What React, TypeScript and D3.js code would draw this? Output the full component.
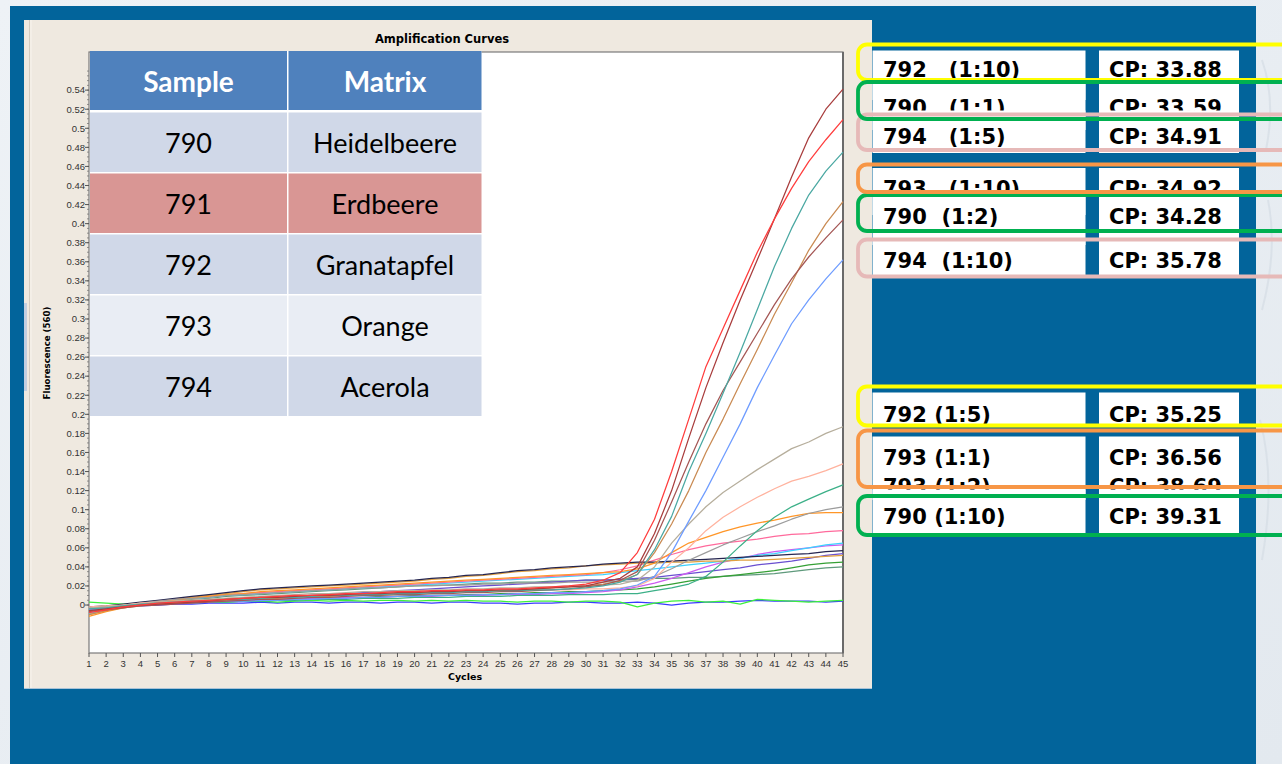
import React from "react";
import * as d3 from "d3";

// ---------- amplification data (fluorescence 560 nm per cycle) ----------
const cycles: number[] = d3.range(1, 46);

const brownTop = [
  -0.006, -0.004, -0.002, 0.0, 0.001, 0.002, 0.003, 0.004, 0.006, 0.007, 0.008, 0.008, 0.009, 0.01, 0.01,
  0.011, 0.012, 0.012, 0.013, 0.013, 0.014, 0.014, 0.015, 0.015, 0.016, 0.016, 0.017, 0.018, 0.019, 0.02,
  0.024, 0.028, 0.04, 0.075, 0.12, 0.175, 0.228, 0.275, 0.32, 0.362, 0.405, 0.449, 0.49, 0.52, 0.541,
];
const red = [
  -0.008, -0.005, -0.002, 0.0, 0.002, 0.003, 0.004, 0.005, 0.006, 0.007, 0.008, 0.009, 0.01, 0.01, 0.011,
  0.012, 0.012, 0.013, 0.014, 0.014, 0.015, 0.015, 0.016, 0.016, 0.017, 0.017, 0.018, 0.019, 0.02, 0.022,
  0.026, 0.034, 0.055, 0.09, 0.14, 0.195, 0.25, 0.29, 0.33, 0.37, 0.405, 0.437, 0.465, 0.488, 0.509,
];
const teal = [
  -0.004, -0.003, -0.001, 0.001, 0.002, 0.003, 0.004, 0.005, 0.006, 0.006, 0.007, 0.008, 0.008, 0.009, 0.01,
  0.01, 0.011, 0.011, 0.012, 0.012, 0.013, 0.013, 0.014, 0.014, 0.015, 0.015, 0.016, 0.016, 0.017, 0.018,
  0.02, 0.024, 0.032, 0.058, 0.093, 0.14, 0.18, 0.222, 0.265, 0.31, 0.355, 0.395, 0.43, 0.455, 0.475,
];
const tan = [
  -0.01, -0.006, -0.003, -0.001, 0.001, 0.002, 0.003, 0.004, 0.005, 0.006, 0.007, 0.007, 0.008, 0.009, 0.009,
  0.01, 0.011, 0.011, 0.012, 0.013, 0.013, 0.014, 0.014, 0.015, 0.015, 0.016, 0.017, 0.018, 0.019, 0.02,
  0.022, 0.025, 0.032, 0.055, 0.085, 0.12, 0.16, 0.195, 0.232, 0.268, 0.305, 0.338, 0.372, 0.4, 0.423,
];
const brown = [
  -0.007, -0.005, -0.003, -0.001, 0.0, 0.001, 0.002, 0.003, 0.004, 0.005, 0.006, 0.006, 0.007, 0.008, 0.008,
  0.009, 0.01, 0.01, 0.011, 0.011, 0.012, 0.012, 0.013, 0.013, 0.014, 0.014, 0.015, 0.016, 0.017, 0.019,
  0.021, 0.026, 0.035, 0.068, 0.108, 0.15, 0.19, 0.225, 0.255, 0.285, 0.315, 0.342, 0.365, 0.385, 0.404,
];
const lightBlue = [
  -0.005, -0.004, -0.002, 0.0, 0.001, 0.002, 0.002, 0.003, 0.004, 0.004, 0.005, 0.005, 0.006, 0.006, 0.007,
  0.007, 0.008, 0.008, 0.009, 0.009, 0.01, 0.01, 0.01, 0.011, 0.011, 0.012, 0.012, 0.013, 0.013, 0.014,
  0.015, 0.017, 0.021, 0.03, 0.055, 0.088, 0.12, 0.155, 0.19, 0.228, 0.262, 0.295, 0.32, 0.342, 0.362,
];
const grayBeige = [
  -0.003, -0.002, 0.0, 0.001, 0.003, 0.004, 0.005, 0.006, 0.007, 0.008, 0.009, 0.01, 0.011, 0.012, 0.012,
  0.013, 0.014, 0.014, 0.015, 0.015, 0.016, 0.016, 0.017, 0.017, 0.018, 0.018, 0.019, 0.019, 0.02, 0.02,
  0.021, 0.022, 0.026, 0.04, 0.065, 0.085, 0.103, 0.118, 0.13, 0.142, 0.153, 0.164, 0.171, 0.18, 0.187,
];
const salmon = [
  -0.002, -0.001, 0.0, 0.002, 0.003, 0.004, 0.005, 0.006, 0.007, 0.008, 0.008, 0.009, 0.01, 0.01, 0.011,
  0.011, 0.012, 0.012, 0.013, 0.013, 0.014, 0.014, 0.014, 0.015, 0.015, 0.015, 0.016, 0.016, 0.016, 0.017,
  0.017, 0.018, 0.02, 0.028, 0.045, 0.06, 0.078, 0.092, 0.103, 0.113, 0.122, 0.13, 0.135, 0.141, 0.148,
];
const seaGreen = [
  -0.006, -0.004, -0.002, 0.0, 0.001, 0.002, 0.002, 0.003, 0.003, 0.004, 0.004, 0.005, 0.005, 0.006, 0.006,
  0.006, 0.007, 0.007, 0.007, 0.008, 0.008, 0.008, 0.009, 0.009, 0.009, 0.01, 0.01, 0.01, 0.011, 0.011,
  0.011, 0.012, 0.012, 0.015, 0.018, 0.022, 0.03, 0.045, 0.062, 0.078, 0.092, 0.103, 0.111, 0.119, 0.126,
];
const gray = [
  -0.003, -0.002, 0.0, 0.002, 0.004, 0.006, 0.007, 0.008, 0.01, 0.011, 0.012, 0.013, 0.014, 0.015, 0.016,
  0.017, 0.018, 0.018, 0.019, 0.02, 0.02, 0.021, 0.021, 0.022, 0.022, 0.023, 0.023, 0.023, 0.024, 0.024,
  0.024, 0.025, 0.025, 0.03, 0.038, 0.047, 0.055, 0.063, 0.07, 0.077, 0.083, 0.09, 0.096, 0.1, 0.103,
];
const orange = [
  -0.012, -0.007, -0.003, 0.0, 0.003, 0.005, 0.007, 0.009, 0.011, 0.012, 0.014, 0.015, 0.016, 0.017, 0.018,
  0.019, 0.02, 0.021, 0.022, 0.023, 0.024, 0.025, 0.026, 0.027, 0.028, 0.029, 0.03, 0.031, 0.032, 0.033,
  0.034, 0.035, 0.038, 0.044, 0.055, 0.065, 0.071, 0.077, 0.082, 0.086, 0.089, 0.093, 0.096, 0.097, 0.097,
];
const pink = [
  -0.004, -0.002, 0.0, 0.002, 0.004, 0.006, 0.008, 0.009, 0.011, 0.012, 0.013, 0.014, 0.015, 0.016, 0.017,
  0.018, 0.019, 0.02, 0.021, 0.022, 0.023, 0.024, 0.025, 0.026, 0.027, 0.028, 0.029, 0.03, 0.031, 0.032,
  0.034, 0.037, 0.041, 0.047, 0.053, 0.058, 0.062, 0.065, 0.067, 0.069, 0.072, 0.074, 0.075, 0.077, 0.078,
];
const cyan = [
  -0.009, -0.005, -0.002, 0.001, 0.003, 0.005, 0.007, 0.008, 0.01, 0.011, 0.012, 0.013, 0.014, 0.015, 0.016,
  0.017, 0.018, 0.019, 0.02, 0.021, 0.022, 0.023, 0.024, 0.025, 0.026, 0.027, 0.028, 0.029, 0.03, 0.031,
  0.032, 0.034, 0.036, 0.038, 0.04, 0.042, 0.044, 0.046, 0.049, 0.052, 0.054, 0.057, 0.06, 0.063, 0.065,
];
const violet = [
  -0.005, -0.003, -0.001, 0.0, 0.001, 0.002, 0.003, 0.004, 0.004, 0.005, 0.005, 0.006, 0.006, 0.007, 0.007,
  0.008, 0.008, 0.008, 0.009, 0.009, 0.009, 0.01, 0.01, 0.01, 0.011, 0.011, 0.011, 0.012, 0.012, 0.013,
  0.014, 0.016, 0.019, 0.023, 0.028, 0.034, 0.04, 0.045, 0.049, 0.053, 0.056, 0.058, 0.06, 0.062, 0.063,
];
const navy = [
  -0.002, -0.001, 0.001, 0.003, 0.005, 0.007, 0.009, 0.011, 0.013, 0.015, 0.017, 0.018, 0.019, 0.02, 0.021,
  0.022, 0.023, 0.024, 0.025, 0.026, 0.028, 0.029, 0.031, 0.032, 0.034, 0.036, 0.037, 0.039, 0.04, 0.041,
  0.043, 0.044, 0.045, 0.045, 0.046, 0.047, 0.048, 0.049, 0.05, 0.051, 0.052, 0.053, 0.054, 0.056, 0.057,
];
const purple = [
  -0.006, -0.004, -0.002, 0.0, 0.001, 0.002, 0.003, 0.004, 0.005, 0.006, 0.007, 0.008, 0.009, 0.01, 0.011,
  0.012, 0.013, 0.014, 0.015, 0.016, 0.017, 0.018, 0.019, 0.02, 0.021, 0.022, 0.023, 0.024, 0.025, 0.026,
  0.026, 0.027, 0.028, 0.029, 0.031, 0.033, 0.035, 0.037, 0.039, 0.042, 0.044, 0.046, 0.049, 0.052, 0.054,
];
const goldenrod = [
  -0.01, -0.006, -0.002, 0.001, 0.004, 0.006, 0.008, 0.01, 0.012, 0.014, 0.016, 0.017, 0.018, 0.019, 0.02,
  0.021, 0.022, 0.023, 0.024, 0.025, 0.027, 0.028, 0.03, 0.031, 0.033, 0.035, 0.036, 0.038, 0.039, 0.041,
  0.042, 0.043, 0.044, 0.044, 0.045, 0.045, 0.046, 0.046, 0.047, 0.047, 0.048, 0.049, 0.05, 0.051, 0.052,
];
const green = [
  -0.005, -0.003, -0.001, 0.0, 0.001, 0.002, 0.003, 0.003, 0.004, 0.005, 0.005, 0.006, 0.006, 0.007, 0.007,
  0.008, 0.008, 0.009, 0.009, 0.01, 0.01, 0.01, 0.011, 0.011, 0.012, 0.012, 0.013, 0.013, 0.014, 0.014,
  0.015, 0.016, 0.017, 0.019, 0.022, 0.025, 0.028, 0.03, 0.032, 0.034, 0.036, 0.039, 0.042, 0.044, 0.045,
];
const grayGreen = [
  -0.004, -0.003, -0.001, 0.001, 0.003, 0.004, 0.006, 0.007, 0.009, 0.01, 0.011, 0.012, 0.013, 0.014, 0.015,
  0.016, 0.017, 0.018, 0.019, 0.02, 0.021, 0.021, 0.022, 0.023, 0.023, 0.024, 0.024, 0.025, 0.025, 0.026,
  0.026, 0.027, 0.027, 0.028, 0.028, 0.029, 0.029, 0.03, 0.031, 0.032, 0.033, 0.035, 0.037, 0.039, 0.04,
];
const limeFlat = [
  0.003, 0.002, 0.001, 0.001, 0.002, 0.002, 0.003, 0.003, 0.003, 0.004, 0.004, 0.003, 0.004, 0.005, 0.004,
  0.005, 0.004, 0.005, 0.005, 0.004, 0.005, 0.004, 0.005, 0.004, 0.004, 0.003, 0.004, 0.004, 0.003, 0.004,
  0.004, 0.003, -0.002, 0.002, 0.004, 0.005, 0.003, 0.004, 0.001, 0.006, 0.005, 0.004, 0.003, 0.004, 0.005,
];
const blueFlat = [
  -0.006, -0.004, -0.002, -0.001, 0.0, 0.001, 0.001, 0.002, 0.002, 0.002, 0.003, 0.002, 0.003, 0.003, 0.002,
  0.003, 0.003, 0.002, 0.003, 0.003, 0.002, 0.003, 0.003, 0.002, 0.002, 0.001, 0.002, 0.002, 0.003, 0.003,
  0.002, 0.002, 0.003, 0.002, 0.0, 0.002, 0.003, 0.003, 0.004, 0.005, 0.004, 0.004, 0.004, 0.003, 0.004,
];

// drawing order: flat traces underneath, strongest amplifications on top
const curveSeries: [number[], string][] = [
  [blueFlat, "#3a3aff"],
  [limeFlat, "#3cf03c"],
  [grayGreen, "#5f9a7c"],
  [green, "#35a035"],
  [purple, "#6a4fd0"],
  [violet, "#cc5cf0"],
  [cyan, "#3cd2ff"],
  [pink, "#ff6a9c"],
  [goldenrod, "#e0a040"],
  [navy, "#262650"],
  [orange, "#ff9628"],
  [gray, "#9c9c9c"],
  [seaGreen, "#3cb088"],
  [salmon, "#ffb29e"],
  [grayBeige, "#b6ae9c"],
  [lightBlue, "#6e9cff"],
  [tan, "#c98a52"],
  [brown, "#a45654"],
  [teal, "#4aa8a2"],
  [brownTop, "#a83c3c"],
  [red, "#ff3c3c"],
];

const yTickValues: number[] = d3.range(0, 28).map((i) => i * 0.02);

// sample legend table
const tableSamples = ["790", "791", "792", "793", "794"];
const tableMatrices = ["Heidelbeere", "Erdbeere", "Granatapfel", "Orange", "Acerola"];
const tableRowFills = ["#d0d8e8", "#d99694", "#d0d8e8", "#e9edf4", "#d0d8e8"];

// crossing points
const cpLabels = [
  "792   (1:10)",
  "790   (1:1)",
  "794   (1:5)",
  "793   (1:10)",
  "790  (1:2)",
  "794  (1:10)",
  "792 (1:5)",
  "793 (1:1)",
  "793 (1:2)",
  "790 (1:10)",
];
const cpValues = [33.88, 33.59, 34.91, 34.92, 34.28, 35.78, 35.25, 36.56, 38.69, 39.31];

// stacked white boxes (later boxes cover the ones before)
const cpBoxes: { top: number; bottom: number; rows: [number, number][] }[] = [
  { top: 50.5, bottom: 100, rows: [[0, 77]] },
  { top: 84, bottom: 130, rows: [[1, 115]] },
  { top: 110.5, bottom: 153, rows: [[2, 143.5]] },
  { top: 168, bottom: 215, rows: [[3, 196]] },
  { top: 190.5, bottom: 245, rows: [[4, 223.5]] },
  { top: 240, bottom: 277.5, rows: [[5, 267.5]] },
  { top: 392.5, bottom: 425, rows: [[6, 421.5]] },
  { top: 436.5, bottom: 500, rows: [[7, 465], [8, 494]] },
  { top: 489.5, bottom: 533, rows: [[9, 523.5]] },
];

const outlineBoxes: { color: string; top: number; bottom: number }[] = [
  { color: "#ffff00", top: 44.5, bottom: 80 },
  { color: "#e6b9b8", top: 114.5, bottom: 150 },
  { color: "#00b050", top: 82, bottom: 119 },
  { color: "#00b050", top: 195, bottom: 231 },
  { color: "#f79646", top: 164.5, bottom: 192 },
  { color: "#e6b9b8", top: 239.5, bottom: 276.5 },
  { color: "#ffff00", top: 386.5, bottom: 425.5 },
  { color: "#f79646", top: 430.5, bottom: 487 },
  { color: "#00b050", top: 496, bottom: 535 },
];

const PANEL_BLUE = "#02649b";
const BEIGE = "#efe9e0";

export default function App() {
  const x = d3.scaleLinear().domain([1, 45]).range([89, 843]);
  const y = d3.scaleLinear().domain([-0.05, 0.58]).range([652.7, 52]);
  const line = d3
    .line<number>()
    .x((_, i) => x(cycles[i]))
    .y((d) => y(d));

  const minorTicks = d3.range(0, 113).map((i) => i * 0.005);
  const axisFont = "'Liberation Sans', Arial, sans-serif";
  const boldFont = "'DejaVu Sans', Verdana, sans-serif";
  const tableFont = "Lato, 'Open Sans', sans-serif";

  const tableTop = 112.5;
  const rowStep = 61;
  const rowH = 59.5;

  return (
    <svg
      width={1282}
      height={764}
      viewBox="0 0 1282 764"
      style={{ position: "absolute", left: 0, top: 0, display: "block" }}
    >
      <defs>
        <linearGradient id="pageBg" x1="0" y1="0" x2="1" y2="1">
          <stop offset="0" stopColor="#eef2f6" />
          <stop offset="1" stopColor="#e3e9ef" />
        </linearGradient>
      </defs>

      {/* page background and slide panel */}
      <rect x={0} y={0} width={1282} height={764} fill="url(#pageBg)" />
      <path d="M1262 60 q14 40 4 90 M1268 200 q10 50 -6 110 M1260 420 q16 60 2 140" stroke="#d2dae2" strokeWidth={2} fill="none" opacity={0.6} />
      <rect x={10} y={6} width={1246} height={758} fill={PANEL_BLUE} />

      {/* chart window */}
      <rect x={24} y={20} width={848} height={668} fill={BEIGE} />
      <line x1={29.5} y1={20} x2={29.5} y2={688} stroke="#d3cbc0" strokeWidth={1} />
      <line x1={31} y1={20} x2={31} y2={688} stroke="#f8f4ee" strokeWidth={1} />
      <line x1={24} y1={688.5} x2={872} y2={688.5} stroke="#a9c3d8" strokeWidth={1} />
      <rect x={24} y={303} width={3} height={88} fill="#c3cfe0" />

      <text x={442} y={43} textAnchor="middle" fontFamily={boldFont} fontWeight="bold" fontSize={11.5} fill="#000">
        Amplification Curves
      </text>

      {/* plot area */}
      <rect x={89} y={52} width={754} height={601} fill="#ffffff" stroke="#7a7a7a" strokeWidth={1.2} />
      <line x1={843} y1={52} x2={843} y2={653} stroke="#6a6a6a" strokeWidth={2} />

      {/* y axis */}
      {minorTicks.map((v, i) => (
        <line key={"ym" + i} x1={87} x2={89} y1={y(v)} y2={y(v)} stroke="#777" strokeWidth={0.8} />
      ))}
      {yTickValues.map((v, i) => (
        <g key={"yt" + i}>
          <line x1={85} x2={89} y1={y(v)} y2={y(v)} stroke="#555" strokeWidth={1} />
          <text x={85} y={y(v) + 3.3} textAnchor="end" fontFamily={axisFont} fontSize={9.5} fill="#333">
            {String(+v.toFixed(2))}
          </text>
        </g>
      ))}
      <text
        transform={`translate(50,353) rotate(-90)`}
        textAnchor="middle"
        fontFamily={boldFont}
        fontWeight="bold"
        fontSize={8.6}
        fill="#000"
      >
        Fluorescence (560)
      </text>

      {/* x axis */}
      {cycles.map((c) => (
        <g key={"xt" + c}>
          <line x1={x(c)} x2={x(c)} y1={653} y2={657} stroke="#555" strokeWidth={1} />
          <text x={x(c)} y={667} textAnchor="middle" fontFamily={axisFont} fontSize={9.5} fill="#333">
            {c}
          </text>
        </g>
      ))}
      <text x={465} y={680} textAnchor="middle" fontFamily={boldFont} fontWeight="bold" fontSize={9.5} fill="#000">
        Cycles
      </text>

      {/* amplification curves */}
      <g fill="none" strokeWidth={1.25} strokeLinejoin="round">
        {curveSeries.map(([vals, color], i) => (
          <path key={"c" + i} d={line(vals) || ""} stroke={color} />
        ))}
      </g>

      {/* sample / matrix table */}
      <rect x={90} y={51} width={391.5} height={365} fill="#ffffff" />
      <rect x={90} y={51} width={197} height={59} fill="#4f81bd" />
      <rect x={288.5} y={51} width={193} height={59} fill="#4f81bd" />
      <text x={188.5} y={91.5} textAnchor="middle" fontFamily={tableFont} fontWeight="bold" fontSize={28} fill="#ffffff">
        Sample
      </text>
      <text x={385} y={91.5} textAnchor="middle" fontFamily={tableFont} fontWeight="bold" fontSize={28} fill="#ffffff">
        Matrix
      </text>
      {tableSamples.map((s, i) => {
        const top = tableTop + i * rowStep;
        return (
          <g key={"row" + i}>
            <rect x={90} y={top} width={197} height={rowH} fill={tableRowFills[i]} />
            <rect x={288.5} y={top} width={193} height={rowH} fill={tableRowFills[i]} />
            <text x={188.5} y={top + 40.8} textAnchor="middle" fontFamily={tableFont} fontSize={27} fill="#000">
              {s}
            </text>
            <text x={385} y={top + 40.8} textAnchor="middle" fontFamily={tableFont} fontSize={27} fill="#000">
              {tableMatrices[i]}
            </text>
          </g>
        );
      })}

      {/* crossing point boxes */}
      {cpBoxes.map((b, i) => (
        <g key={"box" + i}>
          <rect x={872.5} y={b.top} width={213} height={b.bottom - b.top} fill="#ffffff" />
          <rect x={1099} y={b.top} width={140} height={b.bottom - b.top} fill="#ffffff" />
          {b.rows.map(([idx, base]) => (
            <g key={"r" + idx}>
              <text
                x={883}
                y={base}
                fontFamily={boldFont}
                fontWeight="bold"
                fontSize={21}
                fill="#000"
                style={{ whiteSpace: "pre" }}
              >
                {cpLabels[idx]}
              </text>
              <text x={1109} y={base} fontFamily={boldFont} fontWeight="bold" fontSize={21} fill="#000">
                {"CP: " + cpValues[idx].toFixed(2)}
              </text>
            </g>
          ))}
        </g>
      ))}

      {/* coloured group outlines */}
      {outlineBoxes.map((o, i) => (
        <rect
          key={"o" + i}
          x={858}
          y={o.top}
          width={460}
          height={o.bottom - o.top}
          rx={9}
          ry={9}
          fill="none"
          stroke={o.color}
          strokeWidth={3.8}
        />
      ))}
    </svg>
  );
}
